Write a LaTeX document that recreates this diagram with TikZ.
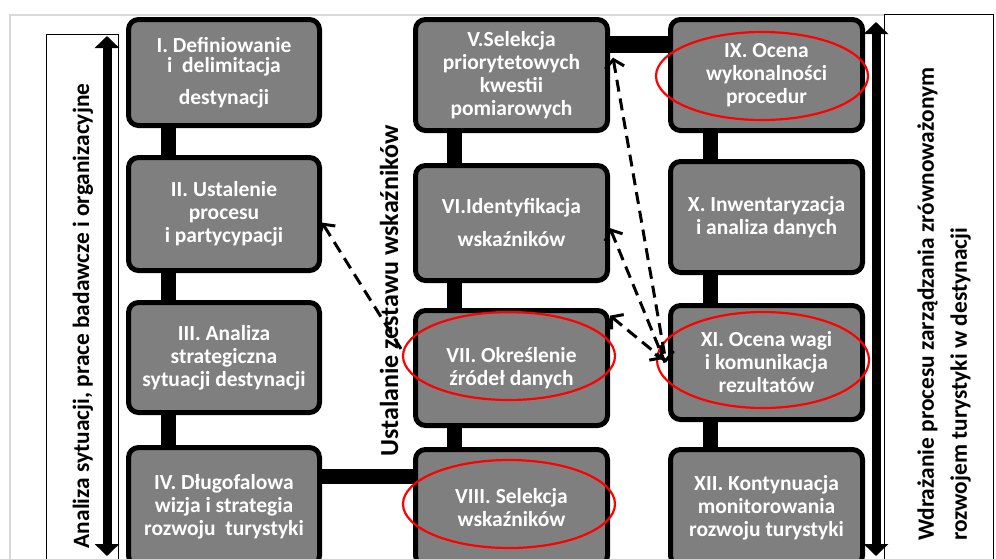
\documentclass[tikz,border=0pt]{standalone}
\usepackage{fontspec}
\setmainfont{Carlito}
\usetikzlibrary{arrows.meta,shapes.geometric}
\definecolor{boxgray}{HTML}{7F7F7F}
\definecolor{framegray}{HTML}{D9D9D9}

\begin{document}
\begin{tikzpicture}[x=1pt,y=-1pt,
  stage/.style={draw=black, line width=5pt, fill=boxgray, rounded corners=10pt,
    minimum width=191pt, align=center, text=white, inner sep=0pt,
    font=\bfseries\fontsize{21.5}{23}\selectfont},
  bar/.style={line width=15pt, black},
  redring/.style={ellipse, draw=red, line width=2.2pt, inner sep=0pt},
  dashlink/.style={dash pattern=on 12pt off 7pt, line width=3pt,
    >={Straight Barb[length=8pt,width=19pt]}},
  bigarrow/.style={line width=9pt,
    {Triangle[width=24pt,length=12pt]}-{Triangle[width=24pt,length=12pt]}},
  sidelabel/.style={rotate=90, inner sep=0pt, align=left,
    font=\bfseries\fontsize{23.4}{33}\selectfont},
]
\useasboundingbox (0,0) rectangle (996,558);
\clip (0,0) rectangle (996,558);

% outer page frame
\draw[framegray, line width=1.5pt] (10,570) -- (10,15) -- (884,15);

% side frames
\draw[line width=0.8pt] (46,34) rectangle (118,570);
\draw[line width=0.8pt] (884,14) rectangle (993,570);

% column I-IV
\node[stage, minimum height=106pt] (I) at (224,72.5)
  {I. Definiowanie\\[-3pt] i\ \ delimitacja\\[9pt] destynacji};
\node[stage, minimum height=113pt] (II) at (224,214)
  {II. Ustalenie\\ procesu\\ i partycypacji};
\node[stage, minimum height=110pt] (III) at (224,357.5)
  {III. Analiza\\ strategiczna\\ sytuacji destynacji};
\node[stage, minimum height=118pt] (IV) at (224,506.5)
  {IV. Długofalowa\\ wizja i strategia\\ rozwoju\ \ turystyki};

% column V-VIII
\node[stage, minimum width=192pt, minimum height=111pt] (V) at (511.5,75)
  {V.Selekcja\\ priorytetowych\\ kwestii\\ pomiarowych};
\node[stage, minimum width=192pt, minimum height=115pt] (VI) at (511.5,223)
  {VI.Identyfikacja\\[10pt] wskaźników};
\node[stage, minimum width=192pt, minimum height=115pt] (VII) at (511.5,368)
  {VII. Określenie\\ źródeł danych};
\node[stage, minimum width=192pt, minimum height=116pt] (VIII) at (511.5,507.5)
  {VIII. Selekcja\\ wskaźników};

% column IX-XII
\node[stage, minimum width=192pt, minimum height=111pt] (IX) at (766.5,75)
  {IX. Ocena\\ wykonalności\\ procedur};
\node[stage, minimum width=192pt, minimum height=111pt] (X) at (766.5,217)
  {X. Inwentaryzacja\\ i analiza danych};
\node[stage, minimum width=192pt, minimum height=114pt] (XI) at (766.5,362.5)
  {XI. Ocena wagi\\ i komunikacja\\ rezultatów};
\node[stage, minimum width=192pt, minimum height=116pt] (XII) at (766.5,507.5)
  {XII. Kontynuacja\\ monitorowania\\ rozwoju turystyki};

% solid links between stages
\coordinate (cA) at (168,0);
\coordinate (cB) at (454,0);
\coordinate (cC) at (710,0);
\coordinate (hLow) at (0,476);
\coordinate (hTop) at (0,44);
\draw[bar] (I.south -| cA) -- (II.north -| cA);
\draw[bar] (II.south -| cA) -- (III.north -| cA);
\draw[bar] (III.south -| cA) -- (IV.north -| cA);
\draw[bar] (V.south -| cB) -- (VI.north -| cB);
\draw[bar] (VI.south -| cB) -- (VII.north -| cB);
\draw[bar] (VII.south -| cB) -- (VIII.north -| cB);
\draw[bar] (IX.south -| cC) -- (X.north -| cC);
\draw[bar] (X.south -| cC) -- (XI.north -| cC);
\draw[bar] (XI.south -| cC) -- (XII.north -| cC);
\draw[bar] (IV.east |- hLow) -- (VIII.west |- hLow);
\draw[bar, line width=17pt] (V.east |- hTop) -- (IX.west |- hTop);

% highlighted stages
\node[redring, minimum width=212pt, minimum height=88pt] (r9) at (762,76) {};
\node[redring, minimum width=212pt, minimum height=88pt] (r7) at (509,356) {};
\node[redring, minimum width=212pt, minimum height=88pt] (r8) at (509,504) {};
\node[redring, minimum width=212pt, minimum height=96pt] (r11) at (763,360) {};

% feedback links
\draw[dashlink, <->] ([xshift=3pt]V.10) -- ([xshift=-2pt]XI.west);
\draw[dashlink, <-] (VI.-3) -- ([xshift=-3pt]XI.west);
\draw[dashlink, <->] (VII.28) -- ([xshift=-5pt]XI.178);
\draw[dashlink, ->] ([xshift=-12pt]VII.169) -- (II.-5);

% phase arrows
\draw[bigarrow] (107,36) -- (107,556);
\draw[bigarrow] (876,22) -- (876,556);

% phase labels
\node[sidelabel] (lleft) at (83,316)
  {Analiza sytuacji, prace badawcze i organizacyjne};
\node[sidelabel, font=\bfseries\fontsize{26}{30}\selectfont] (lmid) at (389,291)
  {Ustalanie zestawu wskaźników};
\node[sidelabel, anchor=west] (lright) at (944,541)
  {Wdrażanie procesu zarządzania zrównoważonym\\ rozwojem turystyki w destynacji};
\end{tikzpicture}
\end{document}
